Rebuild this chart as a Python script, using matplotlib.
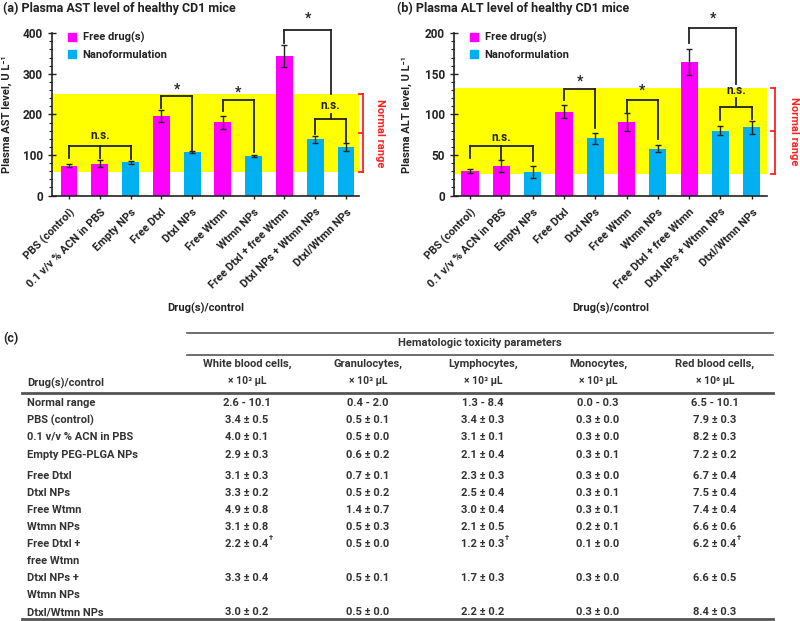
import matplotlib
matplotlib.use('Agg')
import matplotlib.pyplot as plt
from matplotlib.patches import Patch
from matplotlib.ticker import MultipleLocator

plt.rcParams['font.family'] = ['Roboto', 'DejaVu Sans']
plt.rcParams['font.weight'] = 'bold'
plt.rcParams['axes.labelweight'] = 'bold'

# bar chart data
groups = ['PBS (control)', '0.1 v/v % ACN in PBS', 'Empty NPs', 'Free Dtxl', 'Dtxl NPs',
          'Free Wtmn', 'Wtmn NPs', 'Free Dtxl + free Wtmn', 'Dtxl NPs + Wtmn NPs', 'Dtxl/Wtmn NPs']
kind = ['free', 'free', 'nano', 'free', 'nano', 'free', 'nano', 'free', 'nano', 'nano']
ast = [74, 79, 82, 197, 107, 181, 98, 344, 139, 119]
ast_err = [3, 9, 4, 15, 2, 16, 3, 28, 9, 10]
alt = [30, 36.5, 29, 103, 70.5, 91, 58, 165, 80, 84.5]
alt_err = [2.5, 7, 7, 8, 7, 11, 4, 16, 5.5, 8]
ast_normal = (59, 250)
alt_normal = (27, 132)

# table data
row_labels = ['Normal range', 'PBS (control)', '0.1 v/v % ACN in PBS', 'Empty PEG-PLGA NPs',
              'Free Dtxl', 'Dtxl NPs', 'Free Wtmn', 'Wtmn NPs', 'Free Dtxl +\nfree Wtmn',
              'Dtxl NPs +\nWtmn NPs', 'Dtxl/Wtmn NPs']
col_names = ['White blood cells,', 'Granulocytes,', 'Lymphocytes,', 'Monocytes,', 'Red blood cells,']
col_units = ['× 10³ μL', '× 10³ μL', '× 10³ μL', '× 10³ μL', '× 10⁶ μL']
wbc = ['2.6 - 10.1', '3.4 ± 0.5', '4.0 ± 0.1', '2.9 ± 0.3', '3.1 ± 0.3', '3.3 ± 0.2',
       '4.9 ± 0.8', '3.1 ± 0.8', '2.2 ± 0.4†', '3.3 ± 0.4', '3.0 ± 0.2']
gran = ['0.4 - 2.0', '0.5 ± 0.1', '0.5 ± 0.0', '0.6 ± 0.2', '0.7 ± 0.1', '0.5 ± 0.2',
        '1.4 ± 0.7', '0.5 ± 0.3', '0.5 ± 0.0', '0.5 ± 0.1', '0.5 ± 0.0']
lymph = ['1.3 - 8.4', '3.4 ± 0.3', '3.1 ± 0.1', '2.1 ± 0.4', '2.3 ± 0.3', '2.5 ± 0.4',
         '3.0 ± 0.4', '2.1 ± 0.5', '1.2 ± 0.3†', '1.7 ± 0.3', '2.2 ± 0.2']
mono = ['0.0 - 0.3', '0.3 ± 0.0', '0.3 ± 0.0', '0.3 ± 0.1', '0.3 ± 0.0', '0.3 ± 0.1',
        '0.3 ± 0.1', '0.2 ± 0.1', '0.1 ± 0.0', '0.3 ± 0.0', '0.3 ± 0.0']
rbc = ['6.5 - 10.1', '7.9 ± 0.3', '8.2 ± 0.3', '7.2 ± 0.2', '6.7 ± 0.4', '7.5 ± 0.4',
       '7.4 ± 0.4', '6.6 ± 0.6', '6.2 ± 0.4†', '6.6 ± 0.5', '8.4 ± 0.3']

MAG = '#FF00FF'
CYAN = '#00B0F0'
TXT = '#222222'
colors = [MAG if k == 'free' else CYAN for k in kind]

fig = plt.figure(figsize=(8, 6.21), dpi=100)


def bracket(ax, xs, y, bottoms, label, ty, stem=None):
    ax.plot([xs[0], xs[-1]], [y, y], color=TXT, lw=1.3, clip_on=False)
    for x, b in zip(xs, bottoms):
        ax.plot([x, x], [y, b], color=TXT, lw=1.3, clip_on=False)
    xm = (xs[0] + xs[-1]) / 2
    if stem is not None:
        ax.plot([xm, xm], [y, stem], color=TXT, lw=1.3, clip_on=False)
    fs = 10 if label == '*' else 8.5
    ax.text(xm, ty, label, ha='center', va='center', fontsize=fs, color=TXT,
            fontweight='bold')


def panel(rect, vals, errs, normal, ymax, major, minor, xlim, ylabel, red_x, red_txt_x):
    ax = fig.add_axes(rect)
    x = list(range(len(vals)))
    ax.axhspan(normal[0], normal[1], color='#FFFF00', zorder=0, lw=0)
    ax.bar(x, vals, width=0.55, color=colors, zorder=2)
    ax.errorbar(x, vals, yerr=errs, fmt='none', ecolor=TXT, elinewidth=1, capsize=2,
                capthick=1, zorder=3)
    ax.set_xlim(*xlim)
    ax.set_ylim(0, ymax)
    ax.yaxis.set_major_locator(MultipleLocator(major))
    ax.yaxis.set_minor_locator(MultipleLocator(minor))
    ax.set_xticks(x)
    ax.set_xticklabels(groups, rotation=45, ha='right', rotation_mode='anchor',
                       fontsize=8, color=TXT, fontweight='bold')
    ax.tick_params(axis='x', direction='inout', length=4, width=1, pad=6, color=TXT)
    ax.tick_params(axis='y', which='major', direction='inout', length=6, width=1,
                   labelsize=8.5, labelcolor=TXT, color=TXT)
    ax.tick_params(axis='y', which='minor', direction='out', length=2.5, width=0.8, color=TXT)
    for lab in ax.get_yticklabels():
        lab.set_fontweight('bold')
    for s in ['top', 'right']:
        ax.spines[s].set_visible(False)
    for s in ['left', 'bottom']:
        ax.spines[s].set_color(TXT)
        ax.spines[s].set_linewidth(1.2)
    ax.set_ylabel(ylabel, fontsize=8, color=TXT, fontweight='bold')
    ax.yaxis.set_label_coords(-0.13, 0.5)
    ax.set_xlabel('Drug(s)/control', fontsize=8, color=TXT, fontweight='bold')
    ax.xaxis.set_label_coords(0.5, -0.66)
    # normal range marker
    mid = (normal[0] + normal[1]) / 2
    ax.plot([red_x, red_x], [normal[0], normal[1]], color='#FF2020', lw=1.3, clip_on=False)
    for yy in (normal[0], mid, normal[1]):
        ax.plot([red_x - 0.12, red_x], [yy, yy], color='#FF2020', lw=1.3, clip_on=False)
    ax.text(red_txt_x, mid, 'Normal range', rotation=270, ha='center', va='center',
            fontsize=8, color='#FF2020', fontweight='bold')
    ax.legend(handles=[Patch(color=MAG, label='Free drug(s)'),
                       Patch(color=CYAN, label='Nanoformulation')],
              loc='upper left', bbox_to_anchor=(0.02, 1.07), frameon=False,
              prop={'size': 8, 'weight': 'bold'},
              handlelength=0.7, handleheight=0.7, handletextpad=0.6, labelspacing=0.6,
              labelcolor=TXT)
    return ax


ax1 = panel([0.065, 0.685, 0.384, 0.2615], ast, ast_err, ast_normal, 400, 100, 20,
            (-0.553, 9.43), 'Plasma AST level, U L⁻¹', 9.55, 10.12)
bracket(ax1, [0, 1, 2], 123, [92, 92, 90], 'n.s.', 149)
bracket(ax1, [3, 4], 245, [217, 112], '*', 262)
bracket(ax1, [5, 6], 235, [209, 108], '*', 254)
bracket(ax1, [8, 9], 188, [153, 132], 'n.s.', 223, stem=200)
bracket(ax1, [7, 8.5], 408, [375, 250], '*', 436)

ax2 = panel([0.5675, 0.685, 0.391, 0.2615], alt, alt_err, alt_normal, 200, 50, 10,
            (-0.51, 9.48), 'Plasma ALT level, U L⁻¹', 9.735, 10.34)
ax2.yaxis.set_label_coords(-0.134, 0.5)
bracket(ax2, [0, 1, 2], 61, [46, 44, 43], 'n.s.', 72)
bracket(ax2, [3, 4], 131, [118, 83], '*', 141)
bracket(ax2, [5, 6], 118, [103, 70], '*', 129)
bracket(ax2, [8, 9], 109, [93, 94], 'n.s.', 130, stem=120)
bracket(ax2, [7, 8.5], 206, [188, 137], '*', 218)

fig.text(3 / 800, 1 - 8 / 621, '(a) Plasma AST level of healthy CD1 mice', fontsize=9,
         va='center', color=TXT, fontweight='bold')
fig.text(397 / 800, 1 - 8 / 621, '(b) Plasma ALT level of healthy CD1 mice', fontsize=9,
         va='center', color=TXT, fontweight='bold')

# table (c) drawn in pixel coordinates
tb = fig.add_axes([0, 0, 1, 1], zorder=-1)
tb.set_xlim(0, 800)
tb.set_ylim(621, 0)
tb.axis('off')
TCOL = '#333333'
LCOL = '#555555'
tb.text(3, 339, '(c)', fontsize=9, va='center', color=TXT, fontweight='bold')
tb.plot([187, 773], [333, 333], color=LCOL, lw=1.2)
tb.plot([187, 773], [355, 355], color=LCOL, lw=1.2)
tb.plot([22, 773], [393, 393], color=LCOL, lw=2)
tb.plot([22, 773], [619, 619], color=LCOL, lw=2)
tb.text(480, 343, 'Hematologic toxicity parameters', fontsize=8, ha='center', va='center',
        color=TCOL, fontweight='bold')
tb.text(27, 383, 'Drug(s)/control', fontsize=8, va='center', color=TCOL, fontweight='bold')

col_x = [247, 368, 483, 598, 715]
row_y = [403, 420, 437, 455, 476, 493, 510, 527, 544, 578, 612]
columns = [wbc, gran, lymph, mono, rbc]
for cx, name, unit in zip(col_x, col_names, col_units):
    tb.text(cx, 364, name, fontsize=8, ha='center', va='center', color=TCOL,
            fontweight='bold')
    tb.text(cx, 381, unit, fontsize=7.5, ha='center', va='center', color=TCOL,
            fontweight='bold')
for ry, lab in zip(row_y, row_labels):
    for k, line in enumerate(lab.split('\n')):
        tb.text(27, ry + 17 * k, line, fontsize=8, va='center', color=TCOL, fontweight='bold')
for cx, col in zip(col_x, columns):
    for ry, val in zip(row_y, col):
        dag = val.endswith('†')
        t = tb.text(cx, ry, val.rstrip('†'), fontsize=8, ha='center', va='center',
                    color=TCOL, fontweight='bold')
        if dag:
            tb.annotate('†', xy=(1, 0.75), xycoords=t, fontsize=5.5, ha='left', va='bottom',
                        color=TCOL, fontweight='bold')

fig.savefig('out.png', dpi=100)
